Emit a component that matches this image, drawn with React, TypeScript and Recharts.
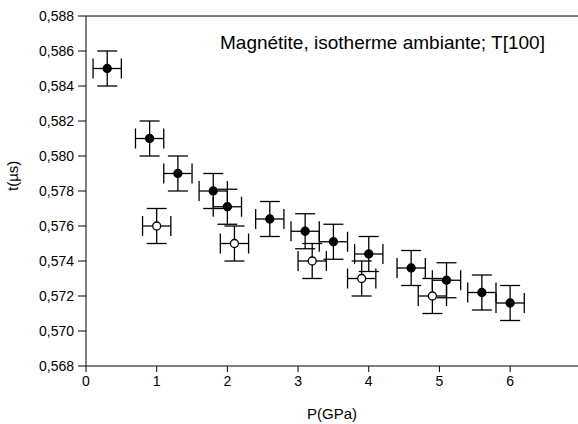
import { ScatterChart, Scatter, XAxis, YAxis, ErrorBar, ReferenceLine } from 'recharts';

// pression (GPa) et temps (µs)
const pFilled = [0.3, 0.9, 1.3, 1.8, 2.0, 2.6, 3.1, 3.5, 4.0, 4.6, 5.1, 5.6, 6.0];
const tFilled = [0.585, 0.581, 0.579, 0.578, 0.5771, 0.5764, 0.5757, 0.5751, 0.5744, 0.5736, 0.5729, 0.5722, 0.5716];
const pOpen = [1.0, 2.1, 3.2, 3.9, 4.9];
const tOpen = [0.576, 0.575, 0.574, 0.573, 0.572];
const errP = 0.2;
const errT = 0.001;

const xTicks = [0, 1, 2, 3, 4, 5, 6];
const yTicks = [0.568, 0.57, 0.572, 0.574, 0.576, 0.578, 0.58, 0.582, 0.584, 0.586, 0.588];

const filled = pFilled.map((p, i) => ({ p, t: tFilled[i], ex: errP, ey: errT }));
const open = pOpen.map((p, i) => ({ p, t: tOpen[i], ex: errP, ey: errT }));

const font = 'Liberation Sans, Arial, sans-serif';

const dot = (fill: string) => (props: any) => (
  <circle cx={props.cx} cy={props.cy} r={4} fill={fill} stroke="#000" strokeWidth={1.3} />
);

export default function App() {
  return (
    <div style={{ position: 'absolute', left: 0, top: 0, width: 578, height: 424, background: '#fff', fontFamily: font }}>
      <ScatterChart width={578} height={424} margin={{ top: 16, right: 0, bottom: 0, left: 0 }}>
        <XAxis
          type="number"
          dataKey="p"
          domain={[0, 6.96]}
          ticks={xTicks}
          allowDataOverflow
          height={58}
          tickSize={6}
          tickMargin={4}
          stroke="#000"
          tick={{ fill: '#000', fontSize: 14, fontFamily: font }}
          label={{ value: 'P(GPa)', position: 'insideBottom', offset: 5, fill: '#000', fontSize: 15, fontFamily: font }}
        />
        <YAxis
          type="number"
          dataKey="t"
          domain={[0.568, 0.588]}
          ticks={yTicks}
          allowDataOverflow
          width={86}
          tickSize={8}
          tickMargin={4}
          stroke="#000"
          tickFormatter={(v: number) => v.toFixed(3).replace('.', ',')}
          tick={{ fill: '#000', fontSize: 14, fontFamily: font }}
          label={{ value: 't(µs)', angle: -90, position: 'insideLeft', offset: 13, fill: '#000', fontSize: 15, fontFamily: font }}
        />
        <ReferenceLine y={0.588} stroke="#000" />
        <Scatter data={filled} fill="#000" shape={dot('#000')} isAnimationActive={false}>
          <ErrorBar dataKey="ex" direction="x" width={10} stroke="#000" strokeWidth={1.3} />
          <ErrorBar dataKey="ey" direction="y" width={10} stroke="#000" strokeWidth={1.3} />
        </Scatter>
        <Scatter data={open} fill="#fff" shape={dot('#fff')} isAnimationActive={false}>
          <ErrorBar dataKey="ex" direction="x" width={10} stroke="#000" strokeWidth={1.3} />
          <ErrorBar dataKey="ey" direction="y" width={10} stroke="#000" strokeWidth={1.3} />
        </Scatter>
      </ScatterChart>
      <div style={{ position: 'absolute', left: 220, top: 32, fontSize: 19, color: '#000', whiteSpace: 'nowrap' }}>
        Magnétite, isotherme ambiante; T[100]
      </div>
    </div>
  );
}
